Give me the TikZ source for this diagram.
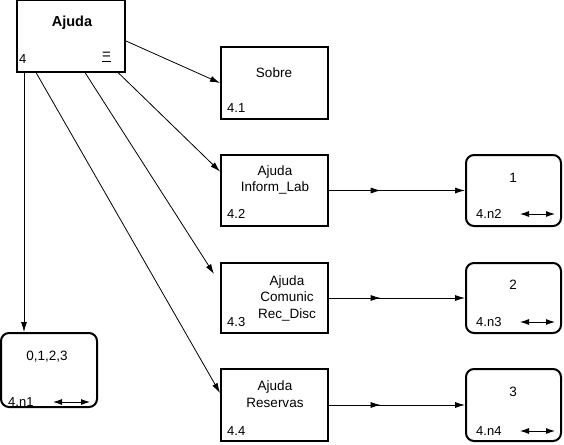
\documentclass[tikz,border=0pt]{standalone}
\usepackage{fontspec}
\setmainfont{Liberation Sans}
\usetikzlibrary{arrows.meta,decorations.markings}

\tikzset{
  proc/.style={draw, line width=2pt, minimum width=107pt, minimum height=71pt, inner sep=0pt},
  store/.style={draw, line width=2pt, rounded corners=8pt, minimum width=95pt, minimum height=71pt, inner sep=0pt},
  tip/.style={-{Latex[length=10pt,width=6pt]}},
  flow/.style={line width=0.8pt, tip},
  midflow/.style={flow, postaction={decorate},
    decoration={markings, mark=at position 0.38 with {\arrow{Latex[length=10pt,width=6pt]}}}},
  dbl/.style={line width=0.9pt, {Latex[length=9pt,width=6pt]}-{Latex[length=9pt,width=6pt]}},
  txt/.style={font=\fontsize{13.5}{16.5}\selectfont, align=center, inner sep=0pt},
  num/.style={font=\fontsize{13}{15}\selectfont, anchor=west, inner sep=0pt},
}

\begin{document}
\begin{tikzpicture}[x=1pt, y=-1pt]
			\useasboundingbox (0,0) rectangle (564,444);
			
			%%%%% BOXES %%%%%
			\node[proc, minimum width=108pt] (ajuda) at (71,36) {};
			\node[font=\fontsize{14.5}{16}\selectfont\bfseries, inner sep=0pt] (ajudaT) at (72,23) {Ajuda};
			\node[num] (ajudaN) at (19,59) {4};
			\node[num, font=\fontsize{15}{17}\selectfont] (ajudaK) at (102,57) {\underline{=}};
			
			\node[proc, minimum height=72pt] (sobre) at (274.5,83) {};
			\node[txt] (sobreT) at (274,73) {Sobre};
			\node[num] (sobreN) at (227,108) {4.1};
			
			\node[proc] (inf) at (274.5,190.5) {};
			\node[txt] (infT) at (275,180) {Ajuda\\Inform\_Lab};
			\node[num] (infN) at (227,214) {4.2};
			
			\node[proc, minimum height=70pt] (com) at (274.5,298) {};
			\node[txt] (comT) at (287,298) {Ajuda\\Comunic\\Rec\_Disc};
			\node[num] (comN) at (227,322) {4.3};
			
			\node[proc, minimum height=72pt] (res) at (274.5,405) {};
			\node[txt] (resT) at (275,394) {Ajuda\\Reservas};
			\node[num] (resN) at (227,431) {4.4};
			
			%%%%% STORES %%%%%
			\node[store, minimum width=96pt, minimum height=74pt] (n1) at (49,370) {};
			\node[txt] (n1T) at (47,357) {0,1,2,3};
			\node[num] (n1N) at (8,402) {4.n1};
			\draw[dbl] (53,402) coordinate (n1a) -- (90,402) coordinate (n1b);
			
			\node[store] (n2) at (513.5,190.5) {};
			\node[txt] (n2T) at (513,178) {1};
			\node[num] (n2N) at (476,214) {4.n2};
			\draw[dbl] (520,214) coordinate (n2a) -- (555,214) coordinate (n2b);
			
			\node[store, minimum height=70pt] (n3) at (513.5,298) {};
			\node[txt] (n3T) at (513,285) {2};
			\node[num] (n3N) at (476,322) {4.n3};
			\draw[dbl] (520,322) coordinate (n3a) -- (555,322) coordinate (n3b);
			
			\node[store, minimum height=72pt] (n4) at (513.5,405) {};
			\node[txt] (n4T) at (513,392) {3};
			\node[num] (n4N) at (476,431) {4.n4};
			\draw[dbl] (520,431) coordinate (n4a) -- (555,431) coordinate (n4b);
			
			%%%%% FLOWS %%%%%
			\draw[flow] ([yshift=-5pt]ajuda.east) -- (sobre.west);
			\draw[flow] ([xshift=47pt]ajuda.south) -- ([yshift=19pt]inf.west);
			\draw[flow] ([xshift=14pt]ajuda.south) -- ([xshift=-6pt,yshift=24pt]com.west);
			\draw[flow] ([xshift=-35pt]ajuda.south) -- ([yshift=12pt]res.west);
			\draw[flow] ([xshift=-47pt]ajuda.south) -- ([xshift=-25pt]n1.north);
			
			\draw[midflow] (inf.east) -- (n2.west);
			\draw[midflow] (com.east) -- (n3.west);
			\draw[midflow] (res.east) -- (n4.west);
\end{tikzpicture}
\end{document}
